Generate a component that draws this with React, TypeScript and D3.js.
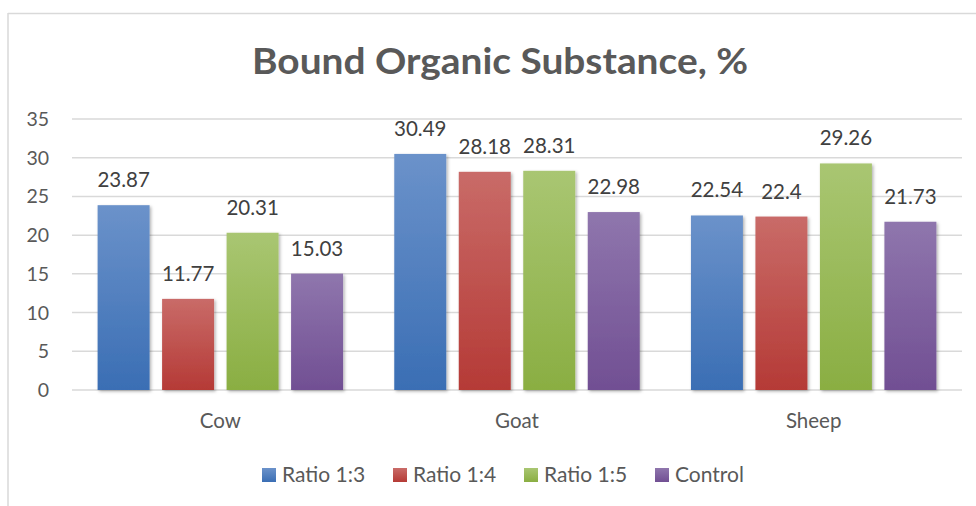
import React from "react";
import * as d3 from "d3";

const categories = ["Cow", "Goat", "Sheep"];
const seriesNames = ["Ratio 1:3", "Ratio 1:4", "Ratio 1:5", "Control"];
const ratio13 = [23.87, 30.49, 22.54];
const ratio14 = [11.77, 28.18, 22.4];
const ratio15 = [20.31, 28.31, 29.26];
const control = [15.03, 22.98, 21.73];
const yTicks = [0, 5, 10, 15, 20, 25, 30, 35];
const title = "Bound Organic Substance, %";

const seriesValues = [ratio13, ratio14, ratio15, control];
const gradTop = ["#6b92ca", "#c96b68", "#a9c672", "#8f76ad"];
const gradBottom = ["#3a6eb4", "#b53a36", "#8aae42", "#714f93"];

const W = 976;
const H = 506;
const FONT = "Lato, 'Open Sans', sans-serif";

export default function App() {
  const x0 = d3.scaleBand<string>().domain(categories).range([72, 962]).paddingInner(0).paddingOuter(0);
  const x1 = d3
    .scaleBand<string>()
    .domain(seriesNames)
    .range([0, x0.bandwidth()])
    .paddingInner(0.194)
    .paddingOuter(0.397);
  const y = d3.scaleLinear().domain([0, 35]).range([390, 119]);

  return (
    <svg
      width={W}
      height={H}
      style={{ position: "absolute", left: 0, top: 0, background: "#fff" }}
      fontFamily={FONT}
    >
      <defs>
        {seriesNames.map((s, i) => (
          <linearGradient key={s} id={`g${i}`} x1="0" y1="0" x2="0" y2="1">
            <stop offset="0%" stopColor={gradTop[i]} />
            <stop offset="100%" stopColor={gradBottom[i]} />
          </linearGradient>
        ))}
        <filter id="shadow" x="-20%" y="-10%" width="140%" height="120%">
          <feDropShadow dx="1.5" dy="1.5" stdDeviation="1.5" floodColor="#000" floodOpacity="0.3" />
        </filter>
      </defs>
      <rect x={0} y={0} width={W} height={H} fill="#fff" />
      <line x1={8} y1={13.5} x2={W} y2={13.5} stroke="#d9d9d9" strokeWidth={1.5} />
      <line x1={8} y1={13} x2={8} y2={H} stroke="#d9d9d9" strokeWidth={1.5} />

      <text
        x={500}
        y={74}
        textAnchor="middle"
        fontSize={37}
        fontWeight="bold"
        fill="#595959"
        textLength={496}
        lengthAdjust="spacingAndGlyphs"
      >
        {title}
      </text>

      {yTicks.map((t) => (
        <line key={t} x1={72} x2={962} y1={y(t)} y2={y(t)} stroke="#d9d9d9" strokeWidth={1.5} />
      ))}
      {yTicks.map((t) => (
        <text key={"l" + t} x={49} y={y(t) + 7} textAnchor="end" fontSize={19.5} fill="#595959">
          {t}
        </text>
      ))}

      {categories.map((c, ci) => (
        <g key={c} transform={`translate(${x0(c)},0)`}>
          {seriesNames.map((s, si) => {
            const v = seriesValues[si][ci];
            const bx = x1(s) as number;
            return (
              <rect
                key={s}
                x={bx}
                y={y(v)}
                width={x1.bandwidth()}
                height={y(0) - y(v)}
                fill={`url(#g${si})`}
                filter="url(#shadow)"
              />
            );
          })}
          {seriesNames.map((s, si) => {
            const v = seriesValues[si][ci];
            const bx = x1(s) as number;
            return (
              <text
                key={"t" + s}
                x={bx + x1.bandwidth() / 2}
                y={y(v) - 18}
                textAnchor="middle"
                fontSize={20.5}
                fill="#404040"
              >
                {String(v)}
              </text>
            );
          })}
          <text x={x0.bandwidth() / 2} y={428} textAnchor="middle" fontSize={20.5} fill="#595959">
            {c}
          </text>
        </g>
      ))}

      {seriesNames.map((s, i) => {
        const lx = 262 + i * 131;
        return (
          <g key={s}>
            <rect x={lx} y={468} width={14} height={14} fill={`url(#g${i})`} />
            <text x={lx + 20} y={482} fontSize={21} fill="#595959">
              {s}
            </text>
          </g>
        );
      })}
    </svg>
  );
}
